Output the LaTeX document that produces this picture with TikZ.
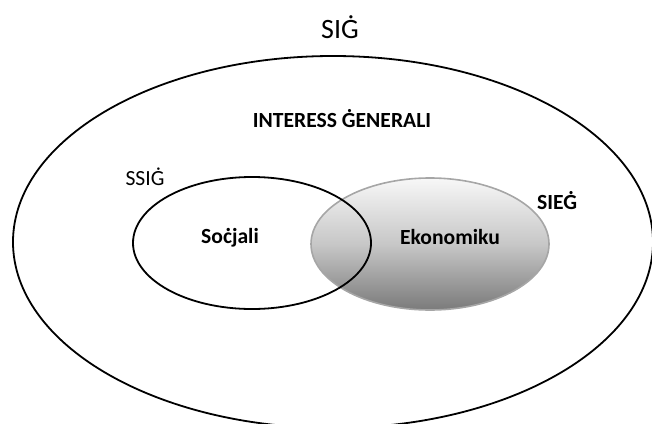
\documentclass[tikz,border=0pt]{standalone}
\usepackage{fontspec}
\setmainfont{Carlito}
\begin{document}
\begin{tikzpicture}[x=0.5pt,y=-0.5pt]
\tikzset{label/.style={font=\fontsize{10.8}{12}\selectfont, inner sep=0pt},
  boldlabel/.style={label, font=\fontsize{10.8}{12}\selectfont\bfseries}}
\useasboundingbox (0,0) rectangle (652,423);
% outer set and the two subsets
\draw[line width=0.9pt] (333,242) ellipse [x radius=320, y radius=186];
\shade[top color=black!3, bottom color=black!52, middle color=black!22] (430,244) ellipse [x radius=119, y radius=66];
\draw[line width=0.8pt, black!35] (430,244) ellipse [x radius=119, y radius=66];
\draw[line width=0.9pt] (252,243) ellipse [x radius=119, y radius=66];
\node [label, font=\fontsize{14}{16}\selectfont] (sig) at (340,27) {SIĠ};
\node [boldlabel] (ig) at (342,119) {INTERESS ĠENERALI};
\node [label] (ssig) at (145,177) {SSIĠ};
\node [boldlabel] (sieg) at (557,201) {SIEĠ};
\node [boldlabel] (soc) at (230,238) {Soċjali};
\node [boldlabel] (eko) at (450,237) {Ekonomiku};
\end{tikzpicture}
\end{document}
